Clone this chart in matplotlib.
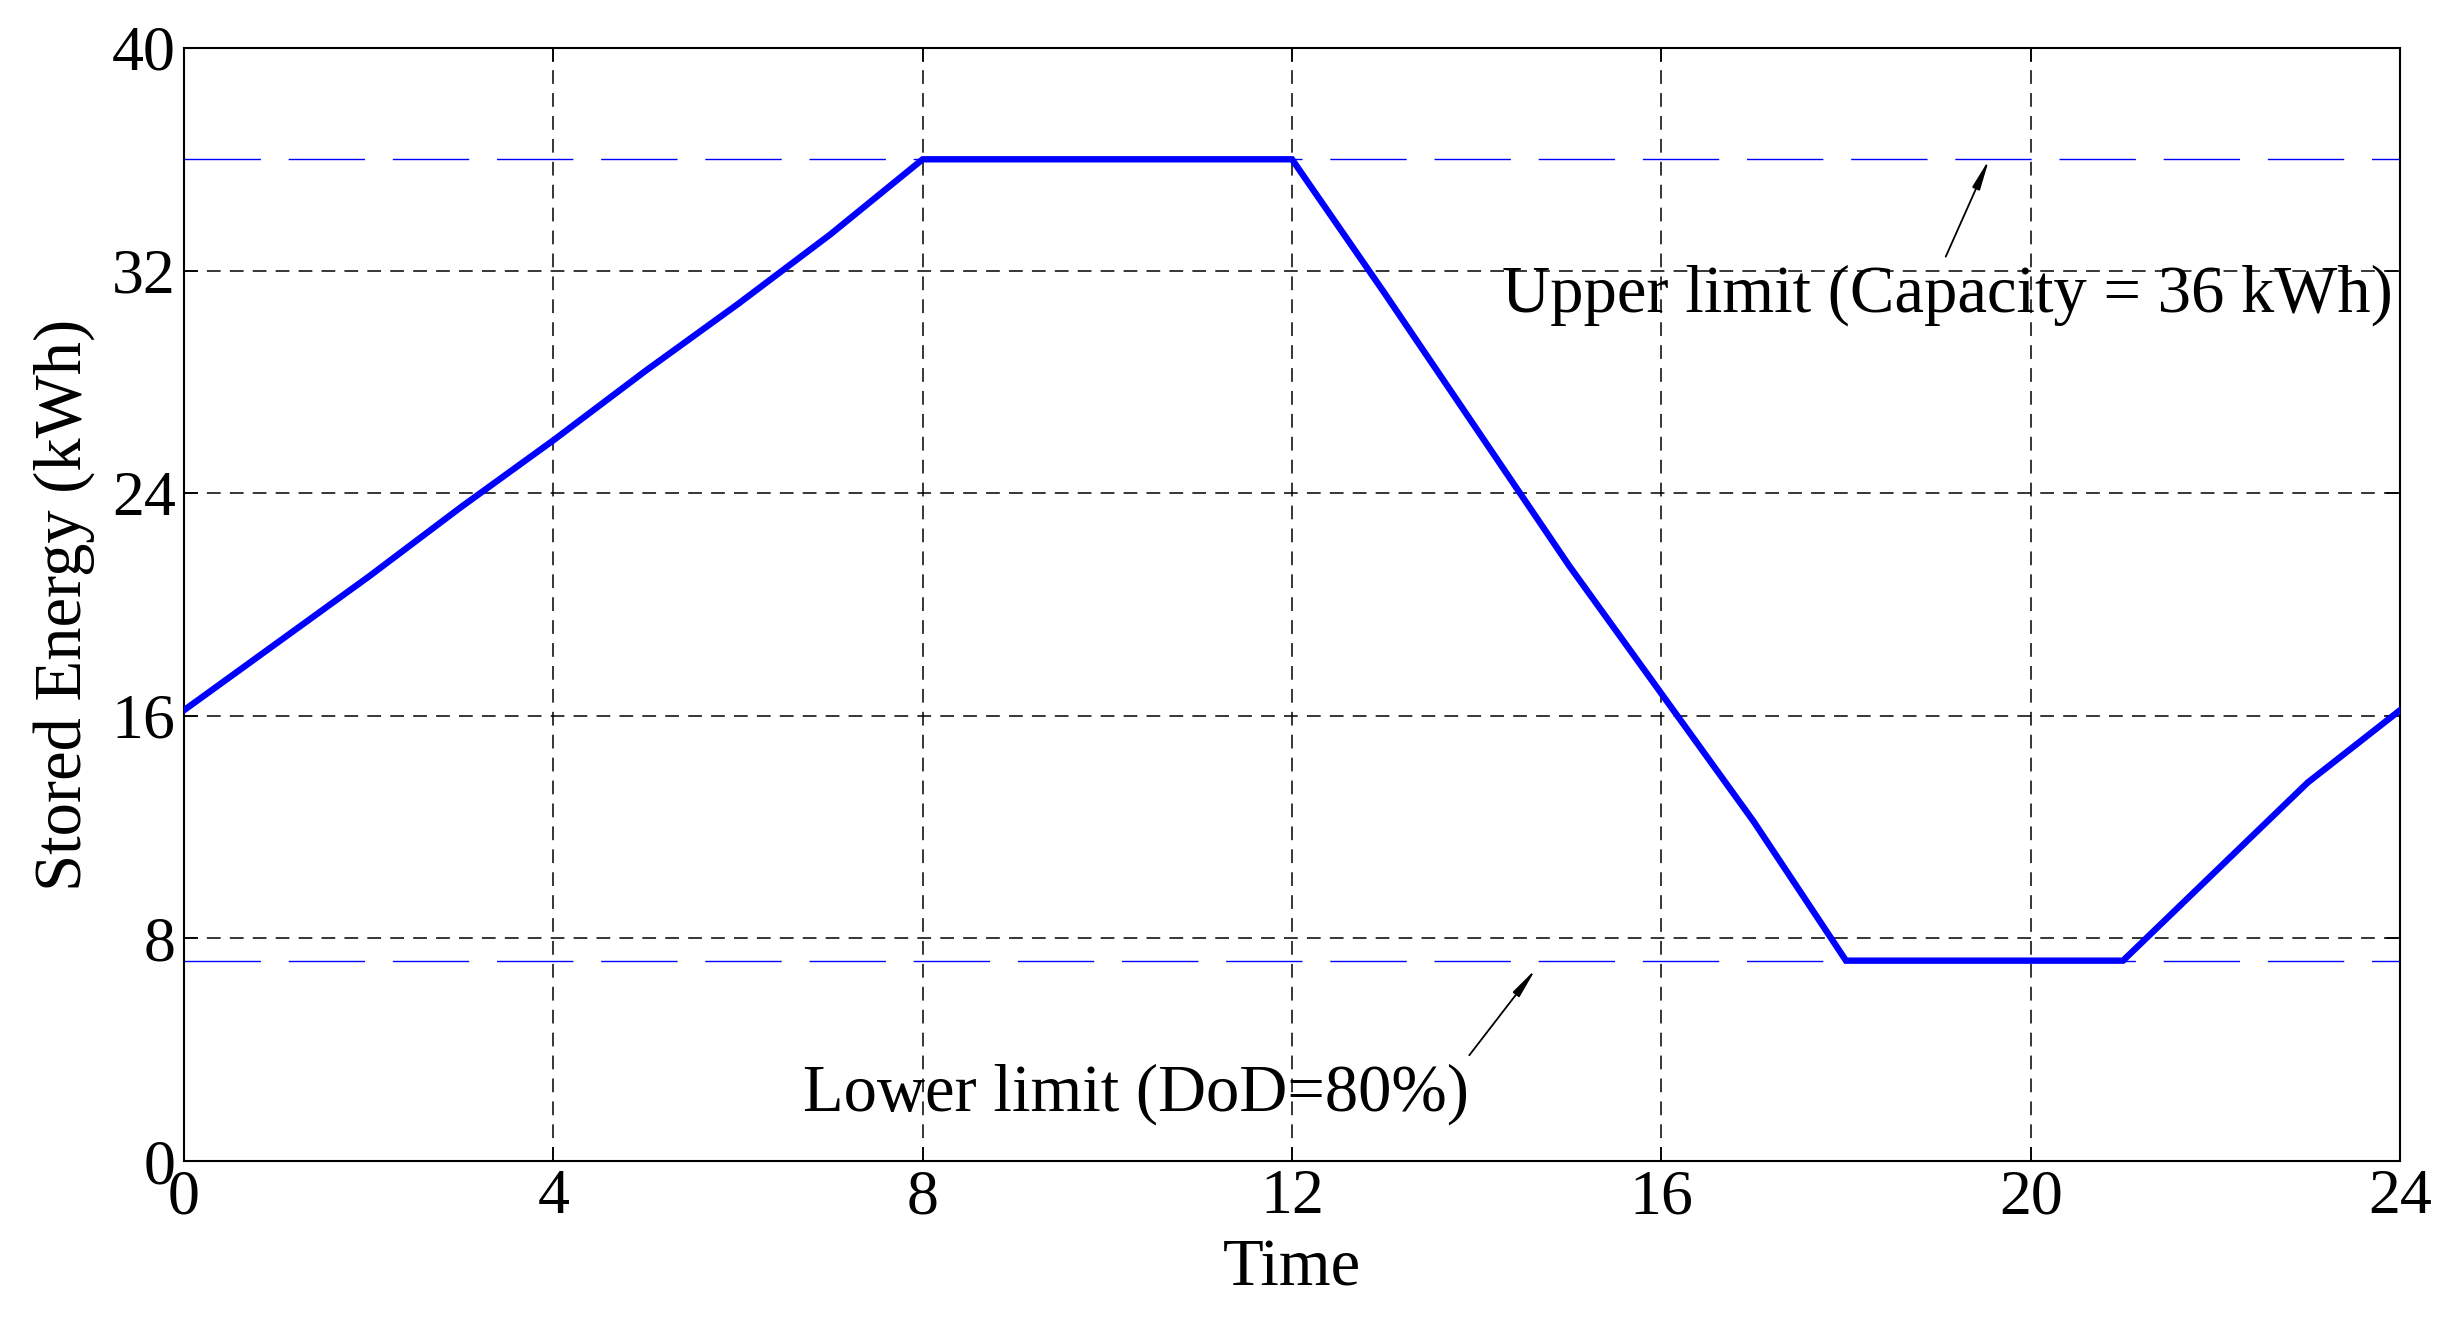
import matplotlib.pyplot as plt
import numpy as np

plt.rcParams['font.family'] = ['Liberation Serif', 'DejaVu Serif']

# hourly stored energy (kWh)
hours = [0, 1, 2, 3, 4, 5, 6, 7, 8, 9, 10, 11, 12, 13, 14, 15, 16, 17, 18, 19, 20, 21, 22, 23, 24]
energy = [16.2, 18.6, 21.0, 23.5, 25.9, 28.4, 30.8, 33.3, 36.0, 36.0, 36.0, 36.0, 36.0,
          31.2, 26.3, 21.4, 16.8, 12.2, 7.2, 7.2, 7.2, 7.2, 10.4, 13.6, 16.2]

upper_limit = 36.0
lower_limit = 7.2

x_ticks = [0, 4, 8, 12, 16, 20, 24]
y_ticks = [0, 8, 16, 24, 32, 40]


def main():
    fig = plt.figure(figsize=(24.5, 13.18), dpi=100)
    ax = fig.add_axes([184 / 2450, 1 - 1161 / 1318, (2400 - 184) / 2450, (1161 - 48) / 1318])

    # limit lines
    ax.axhline(upper_limit, color='blue', lw=1.0, ls=(0, (55, 20)), zorder=2)
    ax.axhline(lower_limit, color='blue', lw=1.0, ls=(0, (55, 20)), zorder=2)

    ax.plot(hours, energy, color='blue', lw=4.6, solid_joinstyle='miter', zorder=3)

    ax.set_xlim(0, 24)
    ax.set_ylim(0, 40)
    ax.set_xticks(x_ticks)
    ax.set_yticks(y_ticks)
    ax.grid(True, color='black', lw=1.1, ls=(0, (9, 6)))
    ax.tick_params(direction='in', length=10, width=1.2, labelsize=46,
                   top=True, right=True, pad=6)
    for s in ax.spines.values():
        s.set_linewidth(1.5)

    ax.set_xlabel("Time", fontsize=48, labelpad=8)
    ax.set_ylabel("Stored Energy (kWh)", fontsize=48, labelpad=12)

    arrow = dict(arrowstyle='-|>,head_width=0.12,head_length=0.9', color='black', lw=1.3,
                 shrinkA=0, shrinkB=0, mutation_scale=20)
    ax.annotate("", xy=(19.55, 36.0), xytext=(19.08, 32.5), arrowprops=arrow)
    ax.text(19.1, 31.1, "Upper limit (Capacity = 36 kWh)", fontsize=48, ha='center', va='center')

    ax.annotate("", xy=(14.64, 6.9), xytext=(13.92, 3.8), arrowprops=arrow)
    ax.text(10.31, 2.4, "Lower limit (DoD=80%)", fontsize=48, ha='center', va='center')

    fig.savefig("out.png", dpi=100)


if __name__ == '__main__':
    main()
